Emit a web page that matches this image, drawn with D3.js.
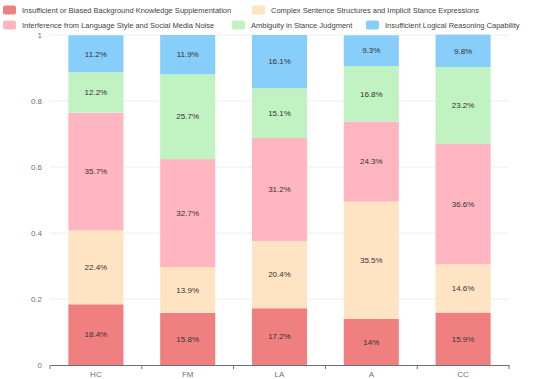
<!DOCTYPE html>
<html>
<head>
<meta charset="utf-8">
<script src="https://cdn.jsdelivr.net/npm/d3@7"></script>
<style>
  body { margin: 0; background: #fff; }
  svg text { font-family: 'Liberation Sans', Arial, sans-serif; }
</style>
</head>
<body>
<div id="chart"></div>
<script>
(() => {
'use strict';

const categories = ['HC', 'FM', 'LA', 'A', 'CC'];
const seriesNames = [
  'Insufficient or Biased Background Knowledge Supplementation',
  'Complex Sentence Structures and Implicit Stance Expressions',
  'Interference from Language Style and Social Media Noise',
  'Ambiguity in Stance Judgment',
  'Insufficient Logical Reasoning Capability'
];
const background = [18.4, 15.8, 17.2, 14, 15.9];
const complexSentence = [22.4, 13.9, 20.4, 35.5, 14.6];
const styleNoise = [35.7, 32.7, 31.2, 24.3, 36.6];
const ambiguity = [12.2, 25.7, 15.1, 16.8, 23.2];
const logical = [11.2, 11.9, 16.1, 9.3, 9.8];
const yTicks = [0, 0.2, 0.4, 0.6, 0.8, 1];

const COLORS = ['#F08080', '#FFE4C4', '#FFB6C1', '#C1F2C1', '#87CEFA'];
const WIDTH = 550;
const HEIGHT = 379;
const M = { top: 35, right: 41, bottom: 14, left: 50 };

const seriesValues = [background, complexSentence, styleNoise, ambiguity, logical];

const rows = categories.map((c, i) => {
  const row = { cat: c };
  seriesNames.forEach((s, j) => { row[s] = seriesValues[j][i] / 100; });
  return row;
});
const stacked = d3.stack().keys(seriesNames)(rows);

const svg = d3.select('#chart')
  .append('svg')
  .attr('width', WIDTH)
  .attr('height', HEIGHT);

const x = d3.scaleBand()
  .domain(categories)
  .range([M.left, WIDTH - M.right]);

const y = d3.scaleLinear()
  .domain([0, 1])
  .range([HEIGHT - M.bottom, M.top]);

const color = d3.scaleOrdinal(seriesNames, COLORS);

// grid
svg.append('g')
  .selectAll('line')
  .data(yTicks.slice(1))
  .enter()
  .append('line')
    .attr('x1', M.left)
    .attr('x2', WIDTH - M.right)
    .attr('y1', d => y(d))
    .attr('y2', d => y(d))
    .attr('stroke', '#eeeeee')
    .attr('stroke-width', 1);

// y axis labels
const yAxis = d3.axisLeft(y).tickValues(yTicks).tickSize(0).tickPadding(8).tickFormat(d3.format('~g'));
svg.append('g')
  .attr('transform', `translate(${M.left}, 0)`)
  .call(yAxis)
  .call(g => g.select('.domain').remove())
  .call(g => g.selectAll('text').attr('fill', '#6e7079').style('font-size', '8px'));

// bars
const barW = x.bandwidth() * 0.6;
const layers = svg.selectAll('.layer')
  .data(stacked)
  .enter()
  .append('g')
    .attr('class', 'layer')
    .attr('fill', d => color(d.key));

layers.selectAll('rect')
  .data(d => d)
  .enter()
  .append('rect')
    .attr('x', d => x(d.data.cat) + (x.bandwidth() - barW) / 2)
    .attr('y', d => y(d[1]))
    .attr('width', barW)
    .attr('height', d => y(d[0]) - y(d[1]));

layers.selectAll('text')
  .data((d, j) => d.map((v, i) => ({ v, i, j })))
  .enter()
  .append('text')
    .attr('x', d => x(categories[d.i]) + x.bandwidth() / 2)
    .attr('y', d => (y(d.v[0]) + y(d.v[1])) / 2)
    .attr('dy', '0.35em')
    .attr('text-anchor', 'middle')
    .attr('fill', '#333')
    .style('font-size', '8px')
    .text(d => `${seriesValues[d.j][d.i]}%`);

// x axis
const xAxis = d3.axisBottom(x).tickSize(0).tickPadding(6);
const gx = svg.append('g')
  .attr('transform', `translate(0, ${HEIGHT - M.bottom})`)
  .call(xAxis);
gx.select('.domain').attr('stroke', '#6e7079');
gx.selectAll('text').attr('fill', '#6e7079').style('font-size', '8px');
gx.selectAll('.sep')
  .data(categories.map(c => x(c)).concat([WIDTH - M.right]))
  .enter()
  .append('line')
    .attr('class', 'sep')
    .attr('x1', d => d)
    .attr('x2', d => d)
    .attr('y1', 0)
    .attr('y2', 4)
    .attr('stroke', '#6e7079');

// legend
const legendPos = [[3, 10], [252, 10], [3, 25], [232, 25], [366, 25]];
const legend = svg.selectAll('.legend')
  .data(seriesNames)
  .enter()
  .append('g')
    .attr('class', 'legend')
    .attr('transform', (d, i) => `translate(${legendPos[i][0]}, ${legendPos[i][1]})`);

legend.append('rect')
  .attr('x', 0)
  .attr('y', -4.5)
  .attr('width', 13)
  .attr('height', 9)
  .attr('rx', 2)
  .attr('fill', d => color(d));

legend.append('text')
  .attr('x', 19)
  .attr('y', 0)
  .attr('dy', '0.35em')
  .attr('fill', '#444')
  .style('font-size', '7.5px')
  .text(d => d);

})();
</script>
</body>
</html>
